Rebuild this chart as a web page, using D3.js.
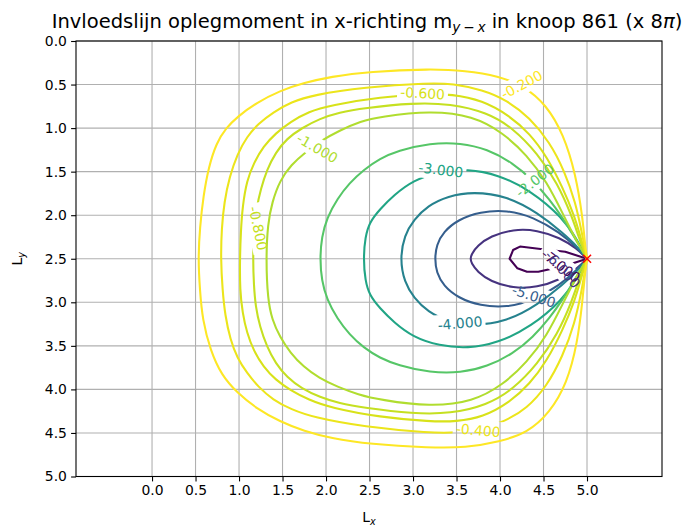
<!DOCTYPE html>
<html><head><meta charset="utf-8">
<script src="https://cdn.jsdelivr.net/npm/d3@7/dist/d3.min.js"></script>
<style>
body{margin:0;background:#fff}
text{font-family:"DejaVu Sans",sans-serif}
</style>
</head><body>
<svg id="chart" width="689" height="529" xmlns="http://www.w3.org/2000/svg"></svg>
<script>
// ---------- data ----------
const levels = [-7, -6, -5, -4, -3, -2, -1, -0.8, -0.6, -0.4, -0.2];
const xTicks = [0, 0.5, 1, 1.5, 2, 2.5, 3, 3.5, 4, 4.5, 5];
const yTicks = [0, 0.5, 1, 1.5, 2, 2.5, 3, 3.5, 4, 4.5, 5];
const xLimits = [-0.874, 5.862];
const yLimits = [0, 5];
const node = [5, 2.5];

// contour polylines, each from the node over the top, round the left, back to the node
const contour_m0_2 = [[5,2.5],[4.98,2.37],[4.95,2.03],[4.87,1.53],[4.73,1.07],[4.53,0.73],[4.28,0.52],[3.98,0.40],[3.6,0.34],[3.2,0.32],[2.5,0.35],[2.05,0.41],[1.75,0.48],[1.47,0.57],[1.2,0.71],[0.98,0.87],[0.85,1.0],[0.74,1.17],[0.65,1.45],[0.59,1.78],[0.55,2.14],[0.53,2.5],
  [0.55,2.86],[0.58,3.2],[0.67,3.55],[0.80,3.84],[0.98,4.04],[1.2,4.22],[1.47,4.37],[1.75,4.48],[2.05,4.56],[2.5,4.63],[3.2,4.67],[3.6,4.67],[4.0,4.60],[4.31,4.50],[4.57,4.27],[4.77,3.93],[4.89,3.47],[4.95,2.97],[4.98,2.63],[5,2.5]];
const contour_m0_4 = [[5,2.5],[4.94,2.2],[4.87,1.86],[4.74,1.49],[4.57,1.16],[4.34,0.88],[4.08,0.68],[3.80,0.56],[3.45,0.49],[3.2,0.48],[2.43,0.53],[1.85,0.62],[1.6,0.70],[1.39,0.82],[1.22,0.95],[1.09,1.10],[0.98,1.30],[0.89,1.56],[0.83,1.85],[0.80,2.15],[0.79,2.5],
  [0.81,2.86],[0.84,3.15],[0.90,3.43],[0.98,3.64],[1.09,3.81],[1.22,3.97],[1.39,4.12],[1.6,4.23],[1.85,4.32],[2.43,4.43],[3.2,4.50],[3.5,4.50],[3.80,4.45],[4.05,4.37],[4.31,4.22],[4.54,3.96],[4.72,3.62],[4.86,3.24],[4.94,2.86],[5,2.5]];
const contour_m0_6 = [[5,2.5],[4.93,2.27],[4.86,2.02],[4.72,1.68],[4.54,1.33],[4.34,1.06],[4.11,0.86],[3.80,0.68],[3.43,0.61],[3.2,0.61],[2.62,0.64],[2.05,0.74],[1.80,0.81],[1.59,0.93],[1.42,1.06],[1.28,1.21],[1.17,1.40],[1.09,1.60],[1.04,1.90],[1.02,2.2],[1.01,2.5],
  [1.01,2.86],[1.04,3.12],[1.09,3.35],[1.17,3.56],[1.28,3.74],[1.42,3.89],[1.59,4.01],[1.80,4.12],[2.05,4.21],[2.62,4.32],[3.2,4.37],[3.5,4.37],[3.80,4.32],[4.11,4.15],[4.34,3.94],[4.54,3.67],[4.72,3.32],[4.86,2.98],[4.93,2.73],[5,2.5]];
const contour_m0_8 = [[5,2.5],[4.91,2.27],[4.83,2.02],[4.66,1.63],[4.43,1.29],[4.15,1.0],[3.85,0.82],[3.43,0.72],[3.0,0.71],[2.43,0.77],[2.15,0.82],[1.93,0.89],[1.72,1.0],[1.55,1.12],[1.42,1.28],[1.32,1.48],[1.25,1.70],[1.20,1.92],[1.17,2.2],[1.16,2.5],
  [1.17,2.8],[1.19,3.05],[1.24,3.28],[1.32,3.51],[1.42,3.70],[1.55,3.86],[1.72,3.99],[1.93,4.09],[2.15,4.16],[2.43,4.21],[3.0,4.28],[3.43,4.28],[3.85,4.18],[4.15,4.0],[4.43,3.71],[4.66,3.37],[4.83,2.98],[4.91,2.73],[5,2.5]];
const contour_m1 = [[5,2.5],[4.88,2.30],[4.72,1.98],[4.54,1.62],[4.31,1.31],[4.03,1.05],[3.69,0.86],[3.2,0.80],[2.62,0.87],[2.40,0.92],[2.15,1.03],[1.95,1.14],[1.76,1.28],[1.60,1.42],[1.47,1.60],[1.38,1.85],[1.33,2.1],[1.31,2.5],
  [1.33,2.97],[1.38,3.2],[1.47,3.40],[1.59,3.58],[1.74,3.74],[1.92,3.87],[2.13,3.97],[2.37,4.06],[2.62,4.12],[3.2,4.20],[3.69,4.14],[4.03,3.95],[4.31,3.69],[4.54,3.38],[4.72,3.02],[4.88,2.70],[5,2.5]];
const contour_m2 = [[5,2.5],[4.86,2.26],[4.72,2.03],[4.57,1.82],[4.38,1.60],[4.15,1.40],[3.85,1.24],[3.55,1.17],[3.2,1.17],[2.82,1.26],[2.62,1.35],[2.43,1.48],[2.27,1.63],[2.13,1.81],[2.01,2.03],[1.95,2.25],[1.93,2.5],
  [1.95,2.75],[2.01,2.97],[2.13,3.19],[2.27,3.37],[2.43,3.52],[2.62,3.64],[2.82,3.72],[3.2,3.81],[3.55,3.81],[3.85,3.74],[4.15,3.59],[4.38,3.40],[4.57,3.18],[4.72,2.97],[4.86,2.74],[5,2.5]];
const contour_m3 = [[5,2.5],[4.88,2.27],[4.72,2.03],[4.36,1.72],[3.97,1.53],[3.63,1.47],[3.3,1.50],[3.0,1.60],[2.78,1.77],[2.62,1.93],[2.50,2.08],[2.45,2.25],[2.43,2.5],
  [2.45,2.75],[2.50,2.92],[2.62,3.07],[2.78,3.23],[3.0,3.40],[3.3,3.50],[3.63,3.53],[3.97,3.47],[4.36,3.28],[4.72,2.97],[4.88,2.73],[5,2.5]];
const contour_m4 = [[5,2.5],[4.9,2.37],[4.72,2.20],[4.43,1.97],[4.08,1.78],[3.69,1.73],[3.40,1.78],[3.17,1.89],[3.01,2.05],[2.90,2.23],[2.85,2.5],
  [2.90,2.77],[3.01,2.95],[3.17,3.11],[3.40,3.22],[3.69,3.27],[4.08,3.22],[4.43,3.03],[4.72,2.80],[4.9,2.63],[5,2.5]];
const contour_m5 = [[5,2.5],[4.88,2.37],[4.69,2.20],[4.38,2.02],[4.08,1.94],[3.77,1.96],[3.52,2.05],[3.35,2.19],[3.27,2.34],[3.25,2.5],
  [3.27,2.66],[3.35,2.81],[3.52,2.95],[3.77,3.04],[4.08,3.06],[4.38,2.98],[4.69,2.80],[4.88,2.63],[5,2.5]];
const contour_m6 = [[5,2.5],[4.88,2.38],[4.69,2.26],[4.43,2.17],[4.15,2.16],[3.89,2.24],[3.74,2.35],[3.67,2.45],[3.66,2.5],
  [3.67,2.55],[3.74,2.65],[3.89,2.76],[4.15,2.84],[4.43,2.83],[4.69,2.74],[4.88,2.62],[5,2.5]];
const contour_m7 = [[5,2.5],[4.75,2.42],[4.49,2.39],[4.23,2.36],[4.15,2.40],[4.11,2.5],[4.20,2.61],[4.31,2.65],[4.44,2.65],[4.75,2.58],[5,2.5]];

// inline contour labels: level, text, anchor (data units), rotation
const labelLevels = [-0.2, -0.6, -1, -0.8, -3, -2, -4, -5, -0.4, -7, -6];
const labelTexts  = ["-0.200","-0.600","-1.000","-0.800","-3.000","-2.000","-4.000","-5.000","-0.400","-7.000","-6.000"];
const labelX      = [4.25, 3.11, 1.90, 1.22, 3.32, 4.40, 3.54, 4.39, 3.75, 4.70, 4.72];
const labelY      = [0.50, 0.60, 1.23, 2.15, 1.48, 1.60, 3.24, 2.93, 4.47, 2.58, 2.62];
const labelAngle  = [-28, 3, 30, 78, 7, -38, -5, 18, 5, 38, 48];

// ---------- drawing ----------
const contours = [
  {level:-7, pts:contour_m7, linear:true},
  {level:-6, pts:contour_m6}, {level:-5, pts:contour_m5}, {level:-4, pts:contour_m4},
  {level:-3, pts:contour_m3}, {level:-2, pts:contour_m2}, {level:-1, pts:contour_m1},
  {level:-0.8, pts:contour_m0_8}, {level:-0.6, pts:contour_m0_6},
  {level:-0.4, pts:contour_m0_4}, {level:-0.2, pts:contour_m0_2}
];

const svg = d3.select("#chart");
const L = 76, R = 662, T = 41, B = 476.5;
const x = d3.scaleLinear().domain(xLimits).range([L, R]);
const y = d3.scaleLinear().domain(yLimits).range([T, B]);
const color = d3.scaleSequential(d3.interpolateViridis).domain(d3.extent(levels));

svg.append("rect").attr("width",689).attr("height",529).attr("fill","#fff");

// grid
const grid = svg.append("g").attr("stroke","#b0b0b0").attr("stroke-width",1.1);
xTicks.forEach(t => grid.append("line").attr("x1",x(t)).attr("x2",x(t)).attr("y1",T).attr("y2",B));
yTicks.forEach(t => grid.append("line").attr("x1",L).attr("x2",R).attr("y1",y(t)).attr("y2",y(t)));

// labels first (to measure), then masks
const defs = svg.append("defs");
const labelG = svg.append("g");
const labelInfo = labelTexts.map((txt, i) => {
  const px = x(labelX[i]), py = y(labelY[i]);
  const t = labelG.append("text")
    .attr("transform", `translate(${px},${py}) rotate(${labelAngle[i]})`)
    .attr("text-anchor","middle").attr("dy","0.36em")
    .attr("font-size","13.9px")
    .attr("fill", color(labelLevels[i]))
    .text(txt);
  return {i, px, py, w: t.node().getComputedTextLength(), level: labelLevels[i]};
});

const lineG = svg.insert("g", () => labelG.node());
contours.forEach((c, k) => {
  const mine = labelInfo.filter(d => d.level === c.level);
  let maskId = null;
  if (mine.length) {
    maskId = "m" + k;
    const m = defs.append("mask").attr("id", maskId).attr("maskUnits","userSpaceOnUse")
      .attr("x",0).attr("y",0).attr("width",689).attr("height",529);
    m.append("rect").attr("width",689).attr("height",529).attr("fill","#fff");
    mine.forEach(d => {
      m.append("rect")
        .attr("x", -d.w/2 - 3).attr("y", -10).attr("width", d.w + 6).attr("height", 20)
        .attr("transform", `translate(${d.px},${d.py}) rotate(${labelAngle[d.i]})`)
        .attr("fill","#000");
    });
  }
  const line = d3.line().x(p => x(p[0])).y(p => y(p[1]))
    .curve(c.linear ? d3.curveLinear : d3.curveBasis);
  const p = lineG.append("path").attr("d", line(c.pts))
    .attr("fill","none").attr("stroke", color(c.level))
    .attr("stroke-width",2.08).attr("stroke-linejoin","round");
  if (maskId) p.attr("mask", `url(#${maskId})`);
});

// node marker
const mk = svg.append("g").attr("stroke","red").attr("stroke-width",1.5);
const nx = x(node[0]), ny = y(node[1]);
mk.append("line").attr("x1",nx-4).attr("y1",ny-4).attr("x2",nx+4).attr("y2",ny+4);
mk.append("line").attr("x1",nx-4).attr("y1",ny+4).attr("x2",nx+4).attr("y2",ny-4);

// spines
svg.append("rect").attr("x",L).attr("y",T).attr("width",R-L).attr("height",B-T)
  .attr("fill","none").attr("stroke","#000").attr("stroke-width",1.1);

// axes
const xAxis = d3.axisBottom(x).tickValues(xTicks).tickFormat(d3.format(".1f")).tickSizeOuter(0).tickSize(4.9).tickPadding(4.2);
const yAxis = d3.axisLeft(y).tickValues(yTicks).tickFormat(d3.format(".1f")).tickSizeOuter(0).tickSize(4.9).tickPadding(4.2);
const gx = svg.append("g").attr("transform",`translate(0,${B})`).call(xAxis);
const gy = svg.append("g").attr("transform",`translate(${L},0)`).call(yAxis);
[gx, gy].forEach(g => {
  g.select(".domain").remove();
  g.selectAll("line").attr("stroke","#000").attr("stroke-width",1.1);
  g.selectAll("text").attr("font-family","DejaVu Sans").attr("font-size","13.9px").attr("fill","#000");
});

// title
const title = svg.append("text").attr("x",367).attr("y",28).attr("text-anchor","middle")
  .attr("font-size","19.5px").attr("fill","#000");
title.append("tspan").text("Invloedslijn oplegmoment in x-richting m");
title.append("tspan").attr("font-size","13.7px").attr("dy","4").attr("font-style","italic").text("y");
title.append("tspan").attr("font-size","13.7px").text("\u2009−\u2009");
title.append("tspan").attr("font-size","13.7px").attr("font-style","italic").text("x");
title.append("tspan").attr("dy","-4").text(" in knoop 861 (x 8");
title.append("tspan").attr("font-style","italic").text("π");
title.append("tspan").text(")");

// axis labels
const xl = svg.append("text").attr("x",(L+R)/2).attr("y",522).attr("text-anchor","middle").attr("font-size","13.9px");
xl.append("tspan").text("L");
xl.append("tspan").attr("font-size","9.7px").attr("dy","3").attr("font-style","italic").text("x");
const yl = svg.append("text").attr("transform",`translate(22,${(T+B)/2}) rotate(-90)`).attr("text-anchor","middle").attr("font-size","13.9px");
yl.append("tspan").text("L");
yl.append("tspan").attr("font-size","9.7px").attr("dy","3").attr("font-style","italic").text("y");
</script>
</body></html>
